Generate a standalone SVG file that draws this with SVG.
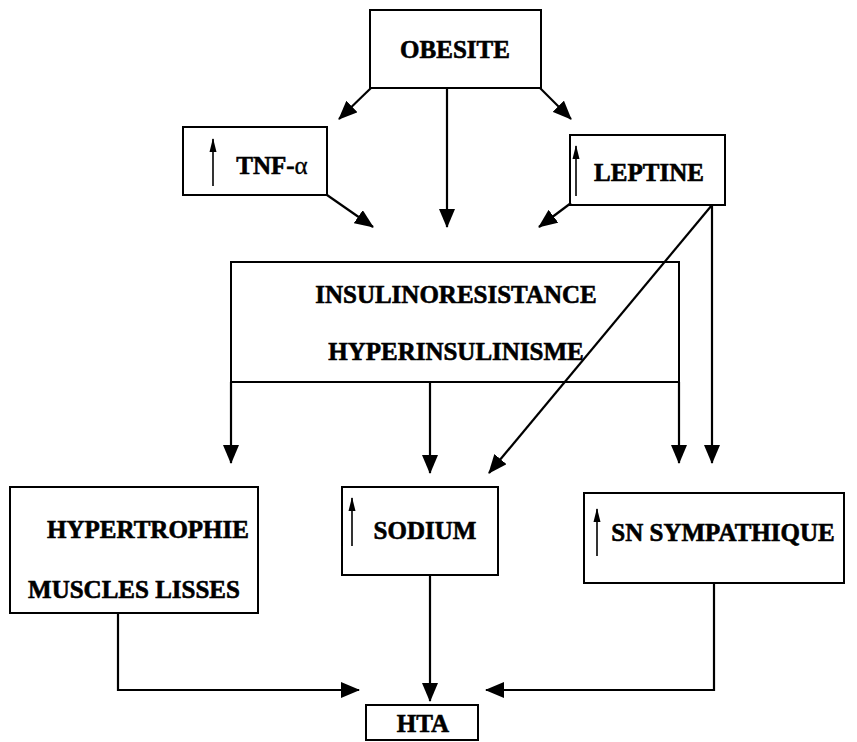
<svg xmlns="http://www.w3.org/2000/svg" width="857" height="742" viewBox="0 0 857 742">
<style>
.box{fill:none;stroke:#000;stroke-width:2}
.t{font-family:"Liberation Serif","Times New Roman",serif;font-weight:bold;font-size:25px;fill:#000;stroke:#000;stroke-width:0.6;text-anchor:middle}
.c{fill:none;stroke:#000;stroke-width:2.2}
.up{fill:none;stroke:#000;stroke-width:1.6}
</style>
<defs>
<marker id="ah" markerUnits="userSpaceOnUse" viewBox="0 0 19 16" markerWidth="19" markerHeight="16" refX="18" refY="8" orient="auto">
<path d="M0,0 L19,8 L0,16 Z" fill="#000"/>
</marker>
<marker id="sm" markerUnits="userSpaceOnUse" viewBox="0 0 14 8" markerWidth="14" markerHeight="8" refX="13" refY="4" orient="auto">
<path d="M0,0.5 L14,4 L0,7.5 Z" fill="#000"/>
</marker>
</defs>
<g id="obesite">
<rect class="box" x="370" y="10" width="171" height="78"/>
<text class="t" x="455" y="58">OBESITE</text>
</g>
<g id="tnf">
<rect class="box" x="183" y="127" width="144" height="68"/>
<line class="up" x1="213" y1="186" x2="213" y2="139" marker-end="url(#sm)"/>
<text class="t" x="272" y="174" font-size="24">TNF-<tspan font-weight="normal" stroke-width="0.3">α</tspan></text>
</g>
<g id="leptine">
<rect class="box" x="570" y="135" width="155" height="70"/>
<line class="up" x1="576" y1="196" x2="576" y2="146" marker-end="url(#sm)"/>
<text class="t" x="649" y="181">LEPTINE</text>
</g>
<g id="insulino">
<rect class="box" x="231" y="262" width="448" height="120"/>
<text class="t" x="456" y="303">INSULINORESISTANCE</text>
<text class="t" x="456" y="360">HYPERINSULINISME</text>
</g>
<g id="hypertrophie">
<rect class="box" x="10" y="487" width="248" height="126"/>
<text class="t" x="148" y="538">HYPERTROPHIE</text>
<text class="t" x="134" y="598">MUSCLES LISSES</text>
</g>
<g id="sodium">
<rect class="box" x="342" y="487" width="156" height="88"/>
<line class="up" x1="352" y1="546" x2="352" y2="498" marker-end="url(#sm)"/>
<text class="t" x="425" y="539">SODIUM</text>
</g>
<g id="sn">
<rect class="box" x="584" y="493" width="260" height="90"/>
<line class="up" x1="597" y1="556" x2="597" y2="509" marker-end="url(#sm)"/>
<text class="t" x="723" y="541">SN SYMPATHIQUE</text>
</g>
<g id="hta">
<rect class="box" x="366" y="705" width="112" height="35"/>
<text class="t" x="423" y="732">HTA</text>
</g>
<g id="connectors">
<line class="c" x1="371" y1="88" x2="339" y2="119" marker-end="url(#ah)"/>
<line class="c" x1="540" y1="88" x2="571" y2="119" marker-end="url(#ah)"/>
<line class="c" x1="447" y1="88" x2="447" y2="227" marker-end="url(#ah)"/>
<line class="c" x1="327" y1="195" x2="373" y2="227" marker-end="url(#ah)"/>
<line class="c" x1="571" y1="203" x2="539" y2="227" marker-end="url(#ah)"/>
<line class="c" x1="712" y1="205" x2="489" y2="473" marker-end="url(#ah)"/>
<line class="c" x1="712" y1="205" x2="712" y2="463" marker-end="url(#ah)"/>
<line class="c" x1="231" y1="382" x2="231" y2="463" marker-end="url(#ah)"/>
<line class="c" x1="430" y1="382" x2="430" y2="473" marker-end="url(#ah)"/>
<line class="c" x1="679" y1="382" x2="679" y2="463" marker-end="url(#ah)"/>
<line class="c" x1="430" y1="575" x2="430" y2="701" marker-end="url(#ah)"/>
<polyline class="c" points="118,613 118,690 359,690" marker-end="url(#ah)"/>
<polyline class="c" points="714,583 714,690 486,690" marker-end="url(#ah)"/>
</g>
</svg>
